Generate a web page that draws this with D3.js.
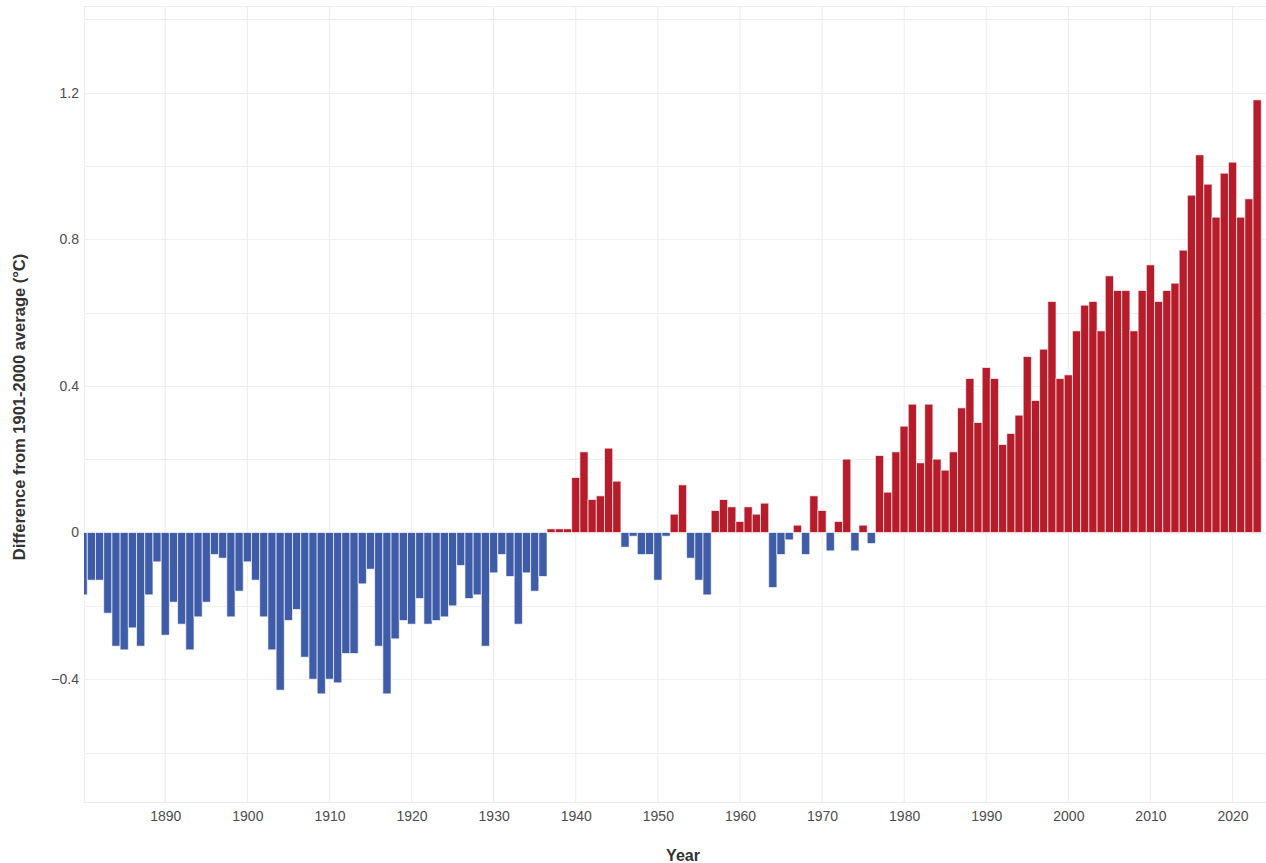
<!DOCTYPE html>
<html>
<head>
<meta charset="utf-8">
<script src="https://cdn.jsdelivr.net/npm/d3@7"></script>
<style>
  html, body { margin: 0; padding: 0; background: #ffffff; }
  svg { display: block; font-family: "Liberation Sans", Arial, sans-serif; }
</style>
</head>
<body>
<svg id="chart" width="1266" height="863"></svg>
<script>
const startYear = 1880;
const anomalies = [
  -0.17, -0.13, -0.13, -0.22, -0.31, -0.32, -0.26, -0.31, -0.17, -0.08,
  -0.28, -0.19, -0.25, -0.32, -0.23, -0.19, -0.06, -0.07, -0.23, -0.16,
  -0.08, -0.13, -0.23, -0.32, -0.43, -0.24, -0.21, -0.34, -0.40, -0.44,
  -0.40, -0.41, -0.33, -0.33, -0.14, -0.10, -0.31, -0.44, -0.29, -0.24,
  -0.25, -0.18, -0.25, -0.24, -0.23, -0.20, -0.09, -0.18, -0.17, -0.31,
  -0.11, -0.06, -0.12, -0.25, -0.11, -0.16, -0.12, 0.01, 0.01, 0.01,
  0.15, 0.22, 0.09, 0.10, 0.23, 0.14, -0.04, -0.01, -0.06, -0.06,
  -0.13, -0.01, 0.05, 0.13, -0.07, -0.13, -0.17, 0.06, 0.09, 0.07,
  0.03, 0.07, 0.05, 0.08, -0.15, -0.06, -0.02, 0.02, -0.06, 0.10,
  0.06, -0.05, 0.03, 0.20, -0.05, 0.02, -0.03, 0.21, 0.11, 0.22,
  0.29, 0.35, 0.19, 0.35, 0.20, 0.17, 0.22, 0.34, 0.42, 0.30,
  0.45, 0.42, 0.24, 0.27, 0.32, 0.48, 0.36, 0.50, 0.63, 0.42,
  0.43, 0.55, 0.62, 0.63, 0.55, 0.70, 0.66, 0.66, 0.55, 0.66,
  0.73, 0.63, 0.66, 0.68, 0.77, 0.92, 1.03, 0.95, 0.86, 0.98,
  1.01, 0.86, 0.91, 1.18
];
const years = anomalies.map((_, i) => startYear + i);
const xTicks = [1890, 1900, 1910, 1920, 1930, 1940, 1950, 1960, 1970, 1980, 1990, 2000, 2010, 2020];
const yTicks = [-0.4, 0, 0.4, 0.8, 1.2];
const yGrid = [-0.6, -0.4, -0.2, 0, 0.2, 0.4, 0.6, 0.8, 1.0, 1.2, 1.4];
const xTitle = "Year";
const yTitle = "Difference from 1901-2000 average (°C)";

const data = years.map((yr, i) => ({ year: yr, value: anomalies[i] }));

const svg = d3.select("#chart");
const pLeft = 84, pRight = 1266.2, pTop = 6, pBottom = 802;

const x = d3.scaleLinear().domain([1880.1, 2024.1]).range([pLeft, pRight]);
const y = d3.scaleLinear().domain([-0.735, 1.436]).range([pBottom, pTop]);

// panel border
svg.append("rect")
  .attr("x", pLeft + 0.5).attr("y", pTop + 0.5)
  .attr("width", 1266 - pLeft).attr("height", pBottom - pTop)
  .attr("fill", "none").attr("stroke", "#ececec").attr("stroke-width", 1);

// grid
svg.append("g").selectAll("line").data(yGrid).join("line")
  .attr("x1", pLeft).attr("x2", 1266)
  .attr("y1", d => Math.round(y(d)) + 0.5).attr("y2", d => Math.round(y(d)) + 0.5)
  .attr("stroke", "#efefef").attr("stroke-width", 1.2);
svg.append("g").selectAll("line").data(xTicks).join("line")
  .attr("y1", pTop).attr("y2", pBottom)
  .attr("x1", d => x(d)).attr("x2", d => x(d))
  .attr("stroke", "#efefef").attr("stroke-width", 1.2);

// clip
svg.append("clipPath").attr("id", "clip").append("rect")
  .attr("x", pLeft).attr("y", pTop).attr("width", 1266 - pLeft).attr("height", pBottom - pTop);

svg.append("g").attr("clip-path", "url(#clip)")
  .selectAll("rect").data(data).join("rect")
  .attr("x", d => x(d.year - 0.5))
  .attr("width", d => x(d.year + 0.5) - x(d.year - 0.5))
  .attr("y", d => y(Math.max(0, d.value)))
  .attr("height", d => Math.abs(y(d.value) - y(0)))
  .attr("fill", d => d.value >= 0 ? "#b71c2a" : "#3e5ca8")
  .attr("stroke", "rgba(255,255,255,0.65)")
  .attr("stroke-width", 1);

// axes
const fmt = d3.format(".1f");
const yAxis = d3.axisLeft(y).tickValues(yTicks).tickSize(0).tickPadding(5)
  .tickFormat(d => d === 0 ? "0" : fmt(d));
const gy = svg.append("g").attr("transform", `translate(${pLeft},0)`).call(yAxis);
gy.select(".domain").remove();
gy.selectAll("text").attr("font-size", 14).attr("fill", "#4d4d4d")
  .attr("font-family", "Liberation Sans, Arial, sans-serif");

const xAxis = d3.axisBottom(x).tickValues(xTicks).tickSize(0).tickPadding(9)
  .tickFormat(d3.format("d"));
const gx = svg.append("g").attr("transform", `translate(0,${pBottom})`).call(xAxis);
gx.select(".domain").remove();
gx.selectAll("text").attr("font-size", 14).attr("fill", "#4d4d4d")
  .attr("font-family", "Liberation Sans, Arial, sans-serif");

// titles
svg.append("text")
  .attr("x", 683).attr("y", 861)
  .attr("text-anchor", "middle")
  .attr("font-size", 16).attr("font-weight", "bold").attr("fill", "#333333")
  .text(xTitle);

svg.append("text")
  .attr("transform", `translate(25,${(pTop + pBottom) / 2 + 3}) rotate(-90)`)
  .attr("text-anchor", "middle")
  .attr("font-size", 16.5).attr("font-weight", "bold").attr("fill", "#333333")
  .text(yTitle);
</script>
</body>
</html>
